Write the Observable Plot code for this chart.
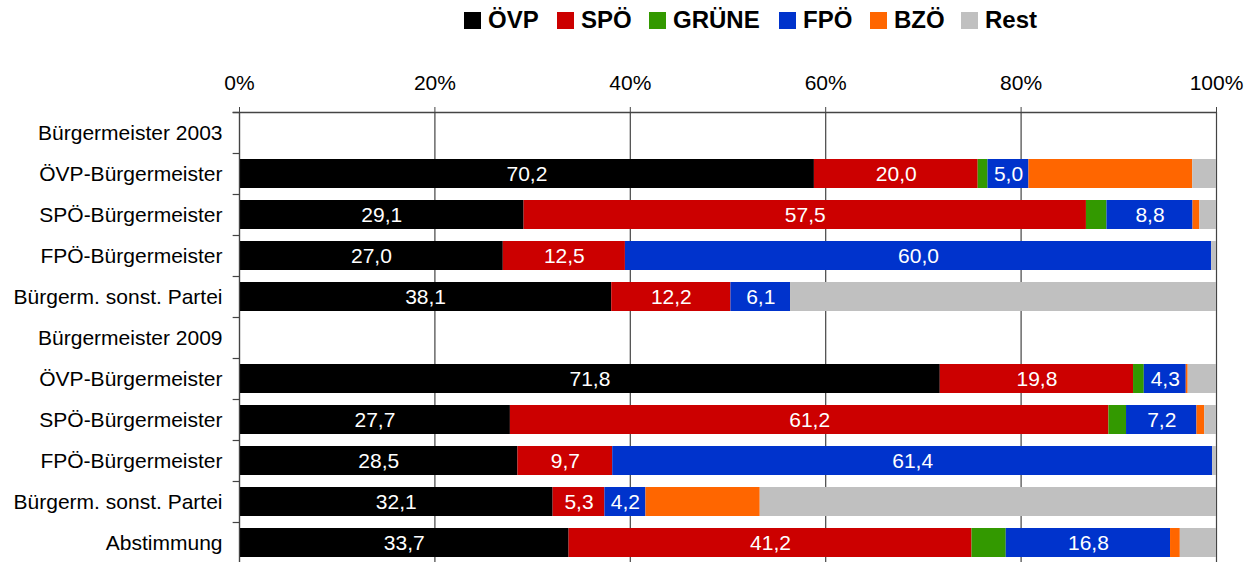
<!DOCTYPE html>
<html><head><meta charset="utf-8">
<script src="https://cdn.jsdelivr.net/npm/d3@7"></script>
<script src="https://cdn.jsdelivr.net/npm/@observablehq/plot@0.6"></script>
<style>
html,body{margin:0;padding:0;overflow:hidden;background:#fff;font-family:"Liberation Sans",Arial,sans-serif;}
#legend{height:42px;position:relative;}
.item{position:absolute;top:0;height:40px;display:flex;align-items:center;font-weight:bold;font-size:24px;color:#000;white-space:nowrap}
.sw{width:17px;height:17px;margin-right:7px;display:inline-block}
#chart svg{display:block}
</style></head><body>
<div id="legend"></div><div id="chart"></div>
<script>
const rowLabels = ["Bürgermeister 2003","ÖVP-Bürgermeister","SPÖ-Bürgermeister","FPÖ-Bürgermeister","Bürgerm. sonst. Partei",
  "Bürgermeister 2009","ÖVP-Bürgermeister","SPÖ-Bürgermeister","FPÖ-Bürgermeister","Bürgerm. sonst. Partei","Abstimmung"];
const parties = ["ÖVP","SPÖ","GRÜNE","FPÖ","BZÖ","Rest"];
const partyColors = ["#000000","#cc0000","#339900","#0033cc","#ff6600","#c0c0c0"];
const oevp   = [null,70.2,29.1,27.0,38.1,null,71.8,27.7,28.5,32.1,33.7];
const spoe   = [null,20.0,57.5,12.5,12.2,null,19.8,61.2, 9.7, 5.3,41.2];
const gruene = [null, 1.2, 2.1, 0.0, 0.0,null, 1.1, 1.8, 0.0, 0.0, 3.5];
const fpoe   = [null, 5.0, 8.8,60.0, 6.1,null, 4.3, 7.2,61.4, 4.2,16.8];
const bzoe   = [null,20.0, 0.7, 0.0, 0.0,null, 0.2, 0.8, 0.0,11.7, 1.0];
const rest   = [null, 2.9, 1.7, 0.5,43.6,null, 2.9, 1.2, 0.4,46.7, 3.7];
const labelledParties = ["ÖVP","SPÖ","FPÖ"];
const xTicks = [0,0.2,0.4,0.6,0.8,1];

const series = [oevp,spoe,gruene,fpoe,bzoe,rest];
const data = [];
rowLabels.forEach((lab,i)=>{
  parties.forEach((p,j)=>{
    const v = series[j][i];
    if (v != null) data.push({row:i, party:p, value:v});
  });
});
const fmt = v => v.toFixed(1).replace(".", ",");

// legend
const legendX = [464,557,649,779,870,961];
const leg = document.getElementById("legend");
parties.forEach((p,j)=>{
  const it = document.createElement("div");
  it.className="item"; it.style.left = legendX[j]+"px";
  it.innerHTML = `<span class="sw" style="background:${partyColors[j]}"></span>${p}`;
  leg.appendChild(it);
});

const H = 523, MT = 70, MB = 2;
const step = (H-MT-MB)/rowLabels.length;
const chart = Plot.plot({
  width: 1249, height: H,
  marginTop: MT, marginBottom: MB, marginLeft: 239, marginRight: 33,
  style: {fontFamily: '"Liberation Sans", Arial, sans-serif', fontSize: "21px", background: "#fff", color: "#000"},
  x: {domain: [0,1], nice: false},
  y: {type: "band", domain: d3.range(rowLabels.length), paddingInner: 0.29, paddingOuter: 0.145},
  color: {domain: parties, range: partyColors},
  marks: [
    Plot.ruleX(xTicks, {stroke: "#444", strokeWidth: 1.2}),
    Plot.ruleY(d3.range(rowLabels.length), {y: d=>d, x1: -0.0065, x2: 0, dy: -step/2, stroke: "#444", strokeWidth: 1.2}),
    Plot.barX(data, Plot.stackX({x: "value", y: "row", z: "party", fill: "party", offset: "normalize"})),
    Plot.textX(data, Plot.stackX({x: "value", y: "row", z: "party", offset: "normalize",
      text: d => labelledParties.includes(d.party) ? fmt(d.value) : "", fill: "white", fontSize: 21})),
    Plot.ruleY([0], {y: d=>d, x1: -0.0065, x2: 1, dy: -step/2, stroke: "#444", strokeWidth: 1.5}),
    Plot.ruleX([0], {stroke: "#444", strokeWidth: 1.2}),
    Plot.axisX(xTicks, {anchor: "top", tickFormat: d => Math.round(d*100)+"%", tickSize: 6, tickPadding: 17, fontSize: 21, label: null, stroke: "#444"}),
    Plot.axisY(d3.range(rowLabels.length), {tickFormat: i => rowLabels[i], tickSize: 0, tickPadding: 17, fontSize: 21, label: null})
  ]
});
document.getElementById("chart").appendChild(chart);
</script>
</body></html>
